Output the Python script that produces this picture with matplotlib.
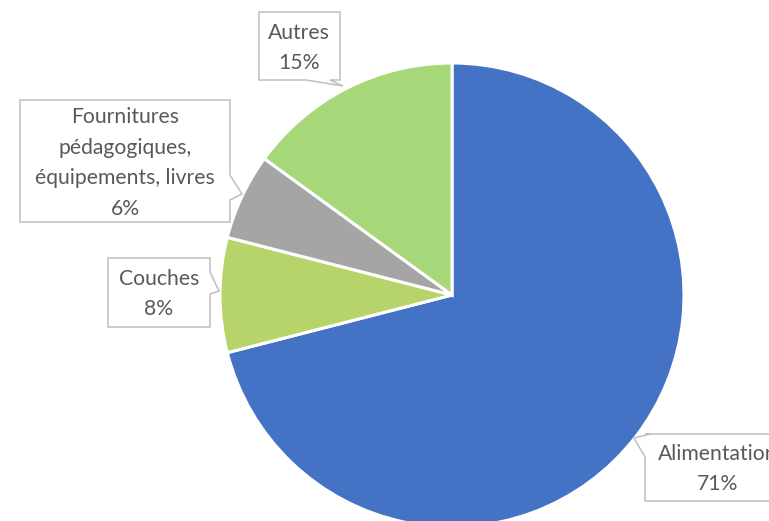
import matplotlib.pyplot as plt
from matplotlib.patches import Polygon

# data
labels = ['Alimentation', 'Couches', 'Fournitures\npédagogiques,\néquipements, livres', 'Autres']
values = [71, 8, 6, 15]
colors = ['#4472C4', '#B6D46A', '#A5A5A5', '#A6D778']

W, H = 769, 521
fig = plt.figure(figsize=(W / 100, H / 100), dpi=100)
ax = fig.add_axes([0, 0, 1, 1])

# pie (pixel coordinates, y measured from top -> converted)
cx, cy, r = 452, 295, 232
ax.pie(values, colors=colors, startangle=90, counterclock=False,
       center=(cx, H - cy), radius=r,
       wedgeprops=dict(edgecolor='white', linewidth=2.2))
ax.set_xlim(0, W)
ax.set_ylim(0, H)
ax.set_aspect('auto')
ax.axis('off')

# callout boxes: outline in pixel coords (x, y from top), text centre
callouts = [
    ([(645, 434), (790, 434), (790, 501), (645, 501), (645, 457), (634, 438), (650, 434)], (718, 469)),
    ([(108, 258), (210, 258), (210, 272), (219, 291), (210, 294), (210, 327), (108, 327)], (159, 294)),
    ([(20, 100), (230, 100), (230, 175), (242, 194), (230, 200), (230, 222), (20, 222)], (125, 163)),
    ([(259, 12), (340, 12), (340, 80), (330, 80), (343, 86), (306, 80), (259, 80)], (299, 48)),
]

for (pts, (tx, ty)), lab, v in zip(callouts, labels, values):
    poly = Polygon([(x, H - y) for x, y in pts], closed=True, facecolor='white',
                   edgecolor='#BFBFBF', linewidth=1.1, zorder=3)
    ax.add_patch(poly)
    ax.text(tx, H - ty, f'{lab}\n{v}%', ha='center', va='center', fontsize=15.2,
            family='Lato', color='#595959', linespacing=1.68, zorder=4)

fig.savefig('out.png', dpi=100)
